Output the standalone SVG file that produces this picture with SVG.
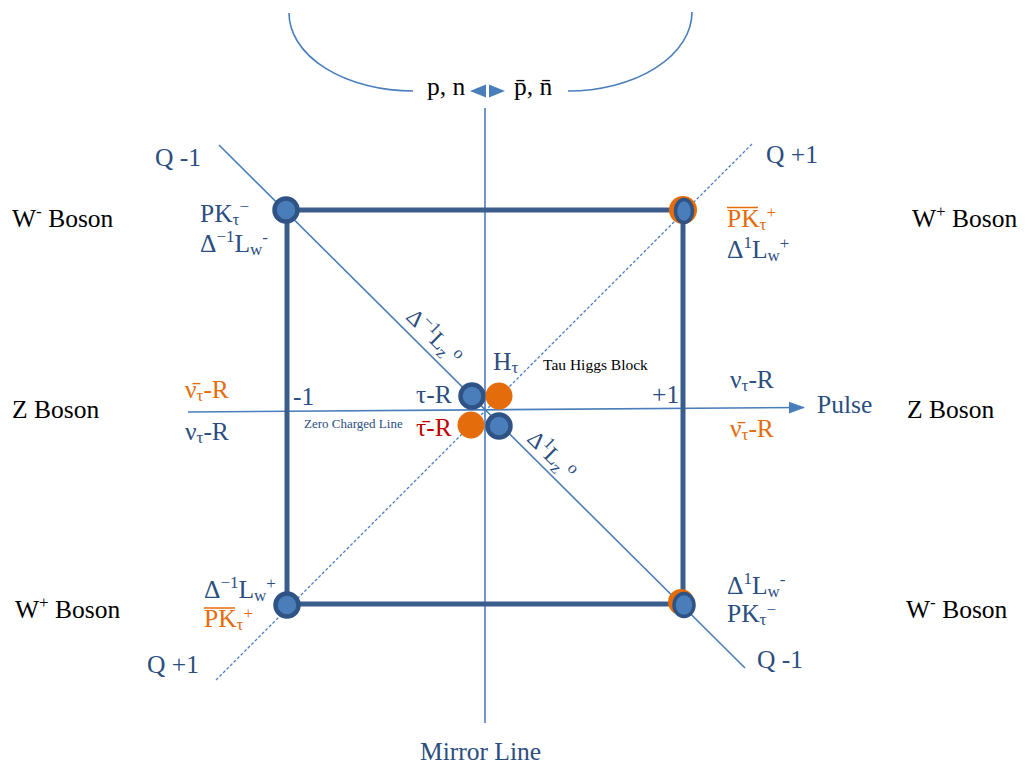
<svg xmlns="http://www.w3.org/2000/svg" width="1030" height="765" viewBox="0 0 1030 765">
<style>
text{font-family:"Liberation Serif","Times New Roman",serif;font-size:25.5px;fill:#2b4e7f}
.blk{fill:#000}
.or{fill:#e46c0a}
.red{fill:#c00000}
.sm{font-size:13px}
.tb{font-size:15.5px;fill:#000}
.s{font-size:17px}
.thin{stroke:#4a7ebb;stroke-width:1.6;fill:none}
.dash{stroke:#4a7ebb;stroke-width:1.3;stroke-dasharray:3 2;fill:none}
.rect{stroke:#3b5d8c;stroke-width:5;fill:none}
.nb{fill:#4a7ebb;stroke:#2f5385;stroke-width:4.5}
.no{fill:#e46c0a}
.ol{stroke:#e46c0a;stroke-width:1.5}
</style>
<defs>
<marker id="arr" markerWidth="16" markerHeight="12" refX="15" refY="6" orient="auto" markerUnits="userSpaceOnUse">
<path d="M0,0 L16,6 L0,12 z" fill="#4a7ebb"/>
</marker>
</defs>

<g id="connectors">
<path class="thin" d="M289,13 A124,78 0 0 0 413,91"/>
<path class="thin" d="M692,12 A124,79 0 0 1 568,91"/>
<polygon points="470,91 486,84.5 486,97.5" fill="#4a7ebb"/>
<polygon points="505,91 489,84.5 489,97.5" fill="#4a7ebb"/>
<line class="thin" x1="485" y1="108" x2="485" y2="723"/>
<line class="thin" x1="188" y1="412" x2="804" y2="407.5" marker-end="url(#arr)"/>
<line class="thin" x1="219" y1="145" x2="745" y2="668"/>
<line class="dash" x1="752" y1="144" x2="216" y2="680"/>
<g id="frame">
<line class="rect" x1="287" y1="210" x2="683" y2="210"/>
<line class="rect" x1="683" y1="210" x2="683" y2="604"/>
<line class="rect" x1="683" y1="604" x2="287" y2="604"/>
<line class="rect" x1="287" y1="604" x2="287" y2="210"/>
</g>
</g>

<g id="top-label">
<text x="427" y="95" class="blk">p, n</text>
<text x="514" y="95" class="blk">p̄, n̄</text>
</g>

<g id="node-top-left">
<circle class="nb" cx="286" cy="210" r="11.5"/>
<text x="155" y="166">Q -1</text>
<text x="200" y="222">PK<tspan class="s" dy="3">τ</tspan><tspan class="s" dy="-13">−</tspan></text>
<text x="200" y="252">Δ<tspan class="s" dy="-10">−1</tspan><tspan dy="10">L</tspan><tspan class="s" dy="3">w</tspan><tspan class="s" dy="-12">-</tspan></text>
<text x="12" y="227" class="blk">W<tspan class="s" dy="-10">-</tspan><tspan dy="10"> Boson</tspan></text>
</g>

<g id="node-top-right">
<circle class="no" cx="683" cy="210" r="14"/>
<ellipse cx="684" cy="211" rx="8.5" ry="11.5" fill="#4a7ebb" stroke="#2f5385" stroke-width="3.5"/>
<text x="766" y="163">Q +1</text>
<text x="727" y="227" class="or">PK<tspan class="s" dy="3">τ</tspan><tspan class="s" dy="-12">+</tspan></text>
<line class="ol" x1="727" y1="207.5" x2="758" y2="207.5"/>
<text x="727" y="258">Δ<tspan class="s" dy="-10">1</tspan><tspan dy="10">L</tspan><tspan class="s" dy="3">w</tspan><tspan class="s" dy="-12">+</tspan></text>
<text x="912" y="227" class="blk">W<tspan class="s" dy="-10">+</tspan><tspan dy="10"> Boson</tspan></text>
</g>

<g id="node-bottom-left">
<circle class="nb" cx="287" cy="605" r="11.5"/>
<text x="204" y="598">Δ<tspan class="s" dy="-10">−1</tspan><tspan dy="10">L</tspan><tspan class="s" dy="3">w</tspan><tspan class="s" dy="-12">+</tspan></text>
<text x="204" y="627" class="or">PK<tspan class="s" dy="3">τ</tspan><tspan class="s" dy="-11">+</tspan></text>
<line class="ol" x1="204" y1="608" x2="235" y2="608"/>
<text x="147" y="673">Q +1</text>
<text x="15" y="618" class="blk">W<tspan class="s" dy="-10">+</tspan><tspan dy="10"> Boson</tspan></text>
</g>

<g id="node-bottom-right">
<circle class="no" cx="681" cy="602" r="13"/>
<ellipse cx="684" cy="605" rx="10" ry="11.5" fill="#4a7ebb" stroke="#2f5385" stroke-width="3.5"/>
<text x="727" y="594">Δ<tspan class="s" dy="-10">1</tspan><tspan dy="10">L</tspan><tspan class="s" dy="3">w</tspan><tspan class="s" dy="-12">-</tspan></text>
<text x="727" y="622">PK<tspan class="s" dy="3">τ</tspan><tspan class="s" dy="-10">−</tspan></text>
<text x="757" y="668">Q -1</text>
<text x="906" y="618" class="blk">W<tspan class="s" dy="-10">-</tspan><tspan dy="10"> Boson</tspan></text>
</g>

<g id="tau-higgs-block">
<circle class="nb" cx="472" cy="396" r="11.5"/>
<circle class="no" cx="499" cy="396" r="13.5"/>
<circle class="no" cx="471" cy="425" r="13.5"/>
<circle class="nb" cx="499" cy="426" r="11.5"/>
<text x="493" y="370">H<tspan class="s" dy="3">τ</tspan></text>
<text x="543" y="370" class="tb">Tau Higgs Block</text>
<text x="416" y="403">τ-R</text>
<text x="416" y="436" class="red">τ̄-R</text>
</g>

<g id="zero-line-labels">
<text x="12" y="418" class="blk">Z Boson</text>
<text x="185" y="398" class="or">ν̄<tspan class="s" dy="3">τ</tspan><tspan dy="-3">-R</tspan></text>
<text x="185" y="440">ν<tspan class="s" dy="3">τ</tspan><tspan dy="-3">-R</tspan></text>
<text x="293" y="405">-1</text>
<text x="304" y="428" class="sm">Zero Charged Line</text>
<text x="652" y="403">+1</text>
<text x="730" y="388">ν<tspan class="s" dy="3">τ</tspan><tspan dy="-3">-R</tspan></text>
<text x="730" y="437" class="or">ν̄<tspan class="s" dy="3">τ</tspan><tspan dy="-3">-R</tspan></text>
<text x="817" y="413">Pulse</text>
<text x="907" y="418" class="blk">Z Boson</text>
</g>

<g id="diagonal-labels">
<text transform="translate(405,318) rotate(45)" style="font-size:23px">Δ<tspan class="s" dy="-9">−1</tspan><tspan dy="9">L</tspan><tspan class="s" dy="4">z</tspan><tspan class="s" dy="-12"> o</tspan></text>
<text transform="translate(526,440) rotate(45)" style="font-size:23px">Δ<tspan class="s" dy="-9">1</tspan><tspan dy="9">L</tspan><tspan class="s" dy="4">z</tspan><tspan class="s" dy="-12"> o</tspan></text>
</g>

<text x="420" y="760">Mirror Line</text>
</svg>
